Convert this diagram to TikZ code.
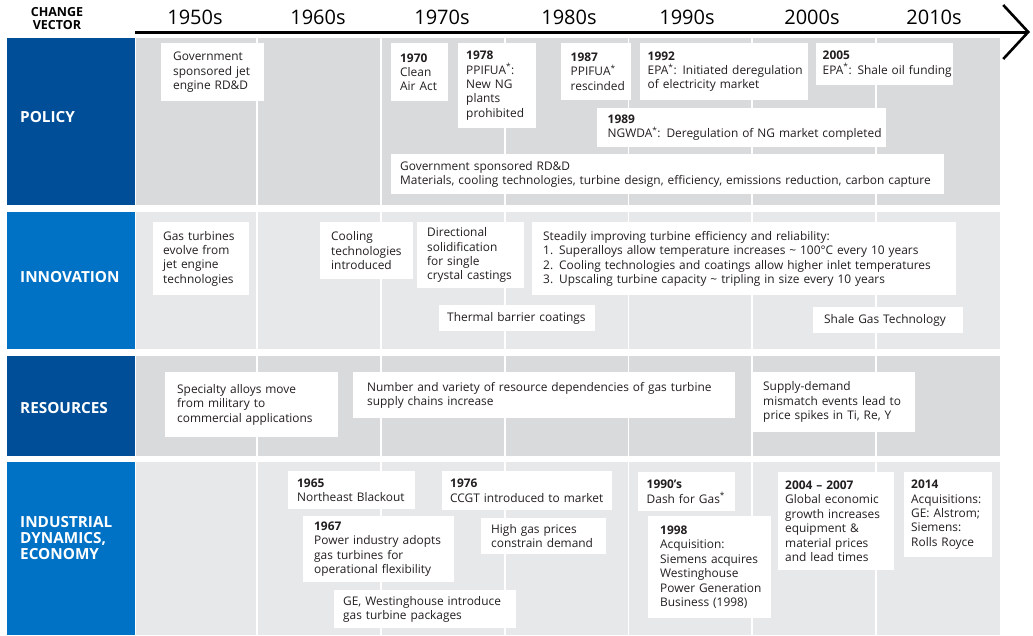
\documentclass[tikz,border=0pt]{standalone}
\usepackage{fontspec}
\setmainfont{Open Sans}
\usetikzlibrary{arrows.meta}
\definecolor{vecdark}{RGB}{0,78,151}
\definecolor{veclight}{RGB}{0,114,198}
\definecolor{rowdark}{RGB}{217,218,219}
\definecolor{rowlight}{RGB}{231,232,233}
\definecolor{evtink}{RGB}{35,31,32}
\newcommand{\fnmark}{\textsuperscript{*}}

\begin{document}
\begin{tikzpicture}[x=1pt, y=-1pt,
  evt/.style n args={3}{fill=white, anchor=north west, inner sep=0pt,
    align=left, text width=#1pt, minimum height=#2pt, text=evtink,
    font=\fontsize{11.9}{14.4}\selectfont,
    execute at begin node={\leftskip=#3pt}},
  veclbl/.style={anchor=west, inner sep=0pt, align=left, text=white,
    font=\bfseries\fontsize{15.3}{15.8}\selectfont},
  decade/.style={inner sep=0pt, font=\fontsize{20}{20}\selectfont},
  axis/.style={-{Straight Barb[length=25pt, width=54pt, line width=2.6pt]},
    line width=3pt}
]
\useasboundingbox (0,0) rectangle (1033,635);
% rows
\fill[vecdark]   (7,38)  rectangle (135,205);
\fill[rowdark]   (136,38) rectangle (1000,205);
\fill[veclight]  (7,212) rectangle (135,349);
\fill[rowlight]  (136,212) rectangle (1000,349);
\fill[vecdark]   (7,356) rectangle (135,456);
\fill[rowdark]   (136,356) rectangle (1000,456);
\fill[veclight]  (7,462) rectangle (135,635);
\fill[rowlight]  (136,462) rectangle (1000,635);
\foreach \x in {257,380.8,504.6,628.4,752.2,876}
  \draw[white, line width=1.8pt] (\x,38) -- (\x,635);

% header
\node[inner sep=0pt, align=center, font=\bfseries\fontsize{12.5}{13}\selectfont]
  (chgvec) at (57,18.5) {CHANGE\\VECTOR};
\foreach \d/\x in {1950s/195,1960s/318,1970s/442,1980s/569,1990s/687,2000s/812,2010s/934}
  \node[decade] (d\d) at (\x,17.5) {\d};
\coordinate (axstart) at (135,32);
\coordinate (axend) at (1030,32);
\draw[axis] (axstart) -- (axend);

% change vectors
\node[veclbl] (policy) at (20,117) {POLICY};
\node[veclbl] (innov) at (20,277) {INNOVATION};
\node[veclbl] (resrc) at (20,408) {RESOURCES};
\node[veclbl] (indus) at (20,538) {INDUSTRIAL\\DYNAMICS,\\ECONOMY};

% policy
\node[evt={103}{58}{12}] (govjet) at (161,43) {Government\\sponsored jet\\engine RD\&D};
\node[evt={57}{58}{9}] (caa70) at (391,43) {\textbf{1970}\\Clean\\Air Act};
\node[evt={78}{85}{8}] (ppifua78) at (458,43) {\textbf{1978}\\PPIFUA\fnmark:\\New NG\\plants\\prohibited};
\node[evt={70}{57}{9.5}] (ppifua87) at (561,43) {\textbf{1987}\\PPIFUA\fnmark\\rescinded};
\node[evt={168}{57}{7.5}] (epa92) at (640,43) {\textbf{1992}\\EPA\fnmark: Initiated deregulation\\of electricity market};
\node[evt={137}{42}{6.5}] (epa05) at (816,43) {\textbf{2005}\\EPA\fnmark: Shale oil funding};
\node[evt={289}{39}{10.5}] (ngwda89) at (597,108) {\textbf{1989}\\NGWDA\fnmark: Deregulation of NG market completed};
\node[evt={553}{40}{9}] (govrdd) at (391,154) {Government sponsored RD\&D\\Materials, cooling technologies, turbine design, efficiency, emissions reduction, carbon capture};

% innovation
\node[evt={96}{73}{10}] (gasturb) at (153,222) {Gas turbines\\evolve from\\jet engine\\technologies};
\node[evt={93}{57}{11}] (cooling) at (320,222) {Cooling\\technologies\\introduced};
\node[evt={107}{66}{10}] (dirsolid) at (417,222) {Directional\\solidification\\for single\\crystal castings};
\node[evt={156}{26}{8}] (tbc) at (439,305) {Thermal barrier coatings};
\node[evt={424}{73}{11}] (steady) at (532,222) {Steadily improving turbine efficiency and reliability:\\1. Superalloys allow temperature increases \textasciitilde\ 100°C every 10 years\\2. Cooling technologies and coatings allow higher inlet temperatures\\3. Upscaling turbine capacity \textasciitilde\ tripling in size every 10 years};
\node[evt={150}{26}{11}] (shale) at (813,307) {Shale Gas Technology};

% resources
\node[evt={173}{65}{12}] (alloys) at (165,372) {Specialty alloys move\\from military to\\commercial applications};
\node[evt={382}{46}{14}] (supplych) at (353,372) {Number and variety of resource dependencies of gas turbine\\supply chains increase};
\node[evt={163}{60}{11}] (spikes) at (752,372) {Supply-demand\\mismatch events lead to\\price spikes in Ti, Re, Y};

% industrial dynamics, economy
\node[evt={127}{38}{9}] (blackout65) at (288,471) {\textbf{1965}\\Northeast Blackout};
\node[evt={151}{66}{11}] (adopt67) at (303,516) {\textbf{1967}\\Power industry adopts\\gas turbines for\\operational flexibility};
\node[evt={182}{38}{9}] (packages) at (334,590) {GE, Westinghouse introduce\\gas turbine packages};
\node[evt={170}{39}{8}] (ccgt76) at (442,471) {\textbf{1976}\\CCGT introduced to market};
\node[evt={125}{36}{10}] (gasprice) at (481,518) {High gas prices\\constrain demand};
\node[evt={97}{39}{8.5}] (dash90) at (638,472) {\textbf{1990's}\\Dash for Gas\fnmark};
\node[evt={123}{102}{12}] (siemens98) at (648,516) {\textbf{1998}\\Acquisition:\\Siemens acquires\\Westinghouse\\Power Generation\\Business (1998)};
\node[evt={116}{98}{7}] (growth07) at (778,472) {\textbf{2004 – 2007}\\Global economic\\growth increases\\equipment \&\\material prices\\and lead times};
\node[evt={88}{85}{7}] (acq14) at (904,472) {\textbf{2014}\\Acquisitions:\\GE: Alstrom;\\Siemens:\\Rolls Royce};
\end{tikzpicture}
\end{document}
